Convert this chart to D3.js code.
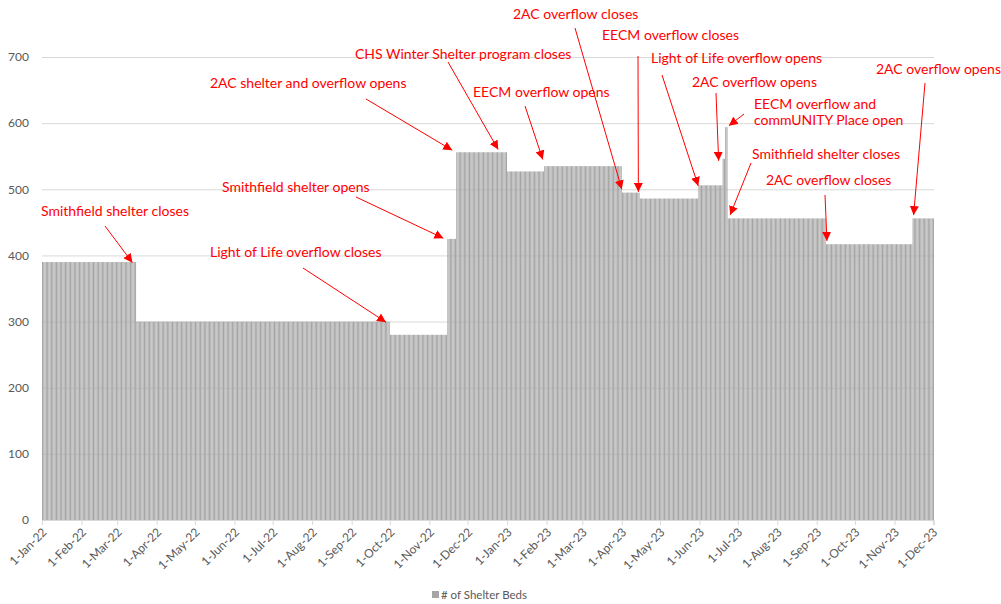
<!DOCTYPE html>
<html>
<head>
<meta charset="utf-8">
<script src="https://cdn.jsdelivr.net/npm/d3@7"></script>
<style>
  body { margin: 0; background: #fff; }
  svg text { font-family: Lato, "Noto Sans", sans-serif; }
</style>
</head>
<body>
<svg id="chart" width="1001" height="604"></svg>
<script>
// Bed count is a step series: each level starts on its change date and lasts until the next one
const changeDates = ["2022-01-01", "2022-03-16", "2022-10-01", "2022-11-15", "2022-11-22",
  "2023-01-01", "2023-01-30", "2023-04-01", "2023-04-15", "2023-05-31",
  "2023-06-19", "2023-06-21", "2023-06-23", "2023-09-08", "2023-11-15"];
const bedLevels = [390, 300, 280, 425, 556, 527, 535, 495, 486, 506, 546, 594, 456, 417, 456];
const lastDay = "2023-12-01";
const yTicks = [0, 100, 200, 300, 400, 500, 600, 700];
const seriesName = "# of Shelter Beds";

// annotations: text lines, and the day / bed count each arrow points at
const noteTexts = [
  ["Smithfield shelter closes"],
  ["Light of Life overflow closes"],
  ["Smithfield shelter opens"],
  ["2AC shelter and overflow opens"],
  ["CHS Winter Shelter program closes"],
  ["EECM overflow opens"],
  ["2AC overflow closes"],
  ["EECM overflow closes"],
  ["Light of Life overflow opens"],
  ["2AC overflow opens"],
  ["EECM overflow and", "commUNITY Place open"],
  ["Smithfield shelter closes"],
  ["2AC overflow closes"],
  ["2AC overflow opens"]
];
const noteDates = ["2022-03-13", "2022-09-28", "2022-11-12", "2022-11-19", "2022-12-25",
  "2023-01-29", "2023-04-01", "2023-04-14", "2023-05-31", "2023-06-16",
  "2023-06-24", "2023-06-25", "2023-09-09", "2023-11-16"];
const noteValues = [389, 299, 426, 559, 560, 545, 500, 496, 505, 543, 596, 461, 422, 461];

// label layout in pixels (text start + baseline, and where each arrow starts)
const noteLabelPos = [[41, 216], [210, 257], [222, 192], [210, 88], [355, 59], [473, 97],
  [513, 19], [602, 40], [651, 63], [692, 87], [754, 109], [752, 159], [766, 185], [876, 74]];
const noteArrowFrom = [[105, 226], [303, 268], [356, 197], [366, 99], [448, 62], [525, 106],
  [575, 28], [638, 56], [662, 75], [716, 93], [744, 114], [751, 163], [825, 195], [925, 83]];

const parse = d3.timeParse("%Y-%m-%d");
const starts = changeDates.map(parse);
const first = starts[0];
const end = d3.timeDay.offset(parse(lastDay), 1);
const days = d3.timeDay.range(first, end);
const data = days.map((d) => ({
  date: d,
  value: bedLevels[d3.bisectRight(starts, d) - 1],
}));

const svg = d3.select("#chart");
const plotL = 42, plotR = 934, plotT = 57, plotB = 520;

const x = d3.scaleBand().domain(days).range([plotL, plotR]).paddingInner(0.2);
const xTime = d3.scaleTime().domain([first, end]).range([plotL, plotR]);
const y = d3.scaleLinear().domain([0, 700]).range([plotB, plotT]);

// gridlines + y labels
svg.append("g")
  .attr("transform", `translate(${plotL},0)`)
  .call(d3.axisLeft(y).tickValues(yTicks).tickSize(-(plotR - plotL)).tickPadding(13))
  .call((g) => g.select(".domain").remove())
  .call((g) => g.selectAll(".tick line").attr("stroke", "#d9d9d9"))
  .call((g) => g.selectAll(".tick text")
    .attr("fill", "#595959").style("font-size", "12px"));

// bars
svg.append("g")
  .selectAll("rect")
  .data(data)
  .enter()
  .append("rect")
  .attr("x", (d) => x(d.date))
  .attr("width", x.bandwidth())
  .attr("y", (d) => y(d.value))
  .attr("height", (d) => plotB - y(d.value))
  .attr("fill", "#a6a6a6");

// X-Axis
const months = d3.timeMonth.range(first, end);
svg.append("g")
  .attr("transform", `translate(0,${plotB})`)
  .call(d3.axisBottom(xTime).tickValues(months).tickSize(5)
    .tickFormat(d3.timeFormat("%-d-%b-%y")))
  .call((g) => g.select(".domain").attr("stroke", "#d9d9d9"))
  .call((g) => g.selectAll(".tick line").attr("stroke", "#d9d9d9"))
  .selectAll(".tick text")
  .attr("fill", "#595959")
  .style("font-size", "12px")
  .attr("text-anchor", "end")
  .attr("y", 0)
  .attr("dy", 0)
  .attr("transform", "translate(5,13) rotate(-45)");

// arrow head
svg.append("defs")
  .append("marker")
  .attr("id", "head")
  .attr("viewBox", "0 0 10 10")
  .attr("refX", 10)
  .attr("refY", 5)
  .attr("markerWidth", 9)
  .attr("markerHeight", 9)
  .attr("markerUnits", "userSpaceOnUse")
  .attr("orient", "auto")
  .append("path")
  .attr("d", "M0,0L10,5L0,10Z")
  .attr("fill", "#ff0000");

const notes = noteTexts.map((t, i) => ({
  lines: t,
  date: parse(noteDates[i]),
  value: noteValues[i],
  pos: noteLabelPos[i],
  from: noteArrowFrom[i],
}));

const ng = svg.append("g");
ng.selectAll("line")
  .data(notes)
  .enter()
  .append("line")
  .attr("x1", (d) => d.from[0])
  .attr("y1", (d) => d.from[1])
  .attr("x2", (d) => xTime(d.date))
  .attr("y2", (d) => y(d.value))
  .attr("stroke", "#ff0000")
  .attr("stroke-width", 1)
  .attr("marker-end", "url(#head)");

ng.selectAll("text")
  .data(notes)
  .enter()
  .append("text")
  .attr("x", (d) => d.pos[0])
  .attr("y", (d) => d.pos[1])
  .attr("fill", "#ff0000")
  .style("font-size", "14px")
  .selectAll("tspan")
  .data((d) => d.lines.map((l) => ({ l, x: d.pos[0] })))
  .enter()
  .append("tspan")
  .attr("x", (d) => d.x)
  .attr("dy", (d, i) => (i ? 16 : 0))
  .text((d) => d.l);

// legend
const lg = svg.append("g");
lg.append("rect").attr("x", 432).attr("y", 591).attr("width", 7).attr("height", 7).attr("fill", "#a6a6a6");
lg.append("text")
  .attr("x", 441)
  .attr("y", 599)
  .attr("fill", "#595959")
  .style("font-size", "11.5px")
  .text(seriesName);
</script>
</body>
</html>
